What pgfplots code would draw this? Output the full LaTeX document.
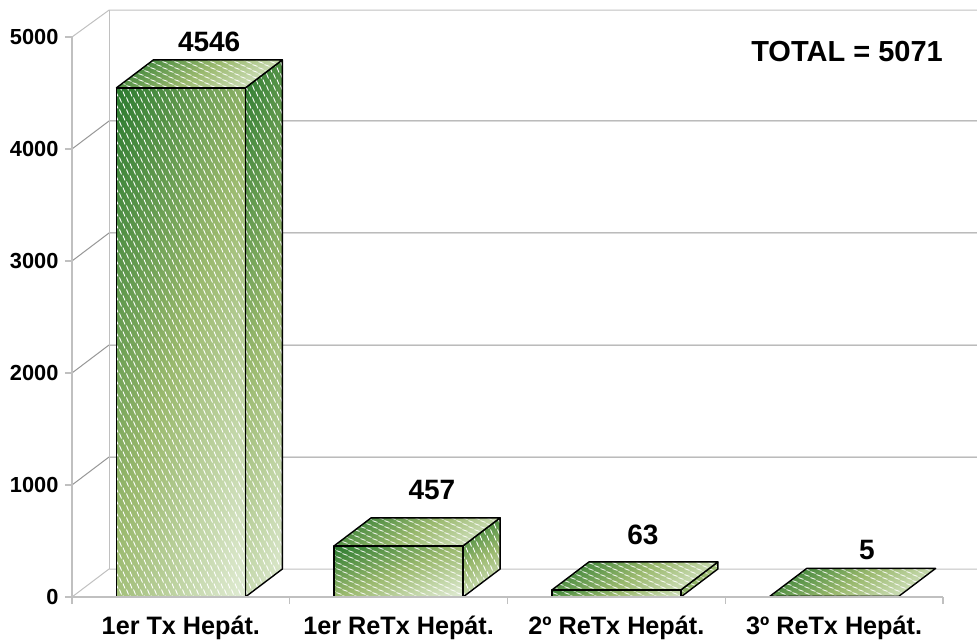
\documentclass[border=0pt]{standalone}
\usepackage{fontspec}
\setmainfont{Liberation Sans}
\usepackage{pgfplots}
\pgfplotsset{compat=1.18}
\usetikzlibrary{patterns}

\definecolor{wallgray}{RGB}{192,192,192}
\definecolor{gridgray}{RGB}{150,150,150}
\definecolor{gdark}{RGB}{26,112,34}
\definecolor{gmid}{RGB}{150,182,104}
\definecolor{glight}{RGB}{230,240,220}

% dark in one corner, light in the opposite one
\pgfdeclareverticalshading{barface}{100bp}{
  color(0bp)=(glight); color(16bp)=(glight); color(50bp)=(gmid);
  color(84bp)=(gdark); color(100bp)=(gdark)}

% the little slanted dashes on the faces
\pgfdeclarepatternformonly{steepdash}{\pgfqpoint{-1pt}{-1pt}}{\pgfqpoint{8pt}{13pt}}{\pgfqpoint{7pt}{12pt}}{
  \pgfsetlinewidth{0.9pt}
  \pgfpathmoveto{\pgfqpoint{0.5pt}{5.5pt}}\pgfpathlineto{\pgfqpoint{2.5pt}{0.5pt}}
  \pgfpathmoveto{\pgfqpoint{4pt}{11.5pt}}\pgfpathlineto{\pgfqpoint{6pt}{6.5pt}}
  \pgfusepath{stroke}}
\pgfdeclarepatternformonly{flatdash}{\pgfqpoint{-1pt}{-1pt}}{\pgfqpoint{13pt}{7pt}}{\pgfqpoint{12pt}{6pt}}{
  \pgfsetlinewidth{0.8pt}
  \pgfpathmoveto{\pgfqpoint{0.5pt}{2.4pt}}\pgfpathlineto{\pgfqpoint{5.5pt}{0.6pt}}
  \pgfpathmoveto{\pgfqpoint{6.5pt}{5.4pt}}\pgfpathlineto{\pgfqpoint{11.5pt}{3.6pt}}
  \pgfusepath{stroke}}

% one face: pattern name, shading angle, coordinates
\newcommand{\barface}[3]{%
  \addplot[draw=none, shading=barface, shading angle=#2, fill opacity=0.96] coordinates {#3} -- cycle;
  \addplot[draw=none, pattern=#1, pattern color=white, fill opacity=0.07] coordinates {#3} -- cycle;
  \addplot[draw=black, line width=1.4pt, line join=round] coordinates {#3} -- cycle;
}
\newcommand{\wall}[2][gridgray]{\addplot[draw=#1, line width=1pt] coordinates {#2};}

\begin{document}
\begin{tikzpicture}
  \path[use as bounding box] (-72pt,-46pt) rectangle (905pt,597pt);
  \begin{axis}[
      at={(0,0)}, anchor=south west,
      scale only axis, width=871pt, height=560pt,
      xmin=0, xmax=4, ymin=0, ymax=5000,
      clip=false, axis on top,
      axis x line*=bottom, axis y line*=left,
      axis line style={draw=wallgray, line width=1.5pt, -},
      tick align=outside, major tick length=7pt, minor tick length=7pt,
      xtick={0.5,1.5,2.5,3.5},
      xticklabels={1er Tx Hepát., 1er ReTx Hepát., 2º ReTx Hepát., 3º ReTx Hepát.},
      minor xtick={0,1,2,3,4},
      x tick style={draw=none},
      minor x tick style={draw=wallgray, line width=1.3pt},
      ytick={0,1000,2000,3000,4000,5000},
      y tick style={draw=wallgray, line width=1.3pt},
      scaled y ticks=false,
      /pgf/number format/assume math mode=true,
      /pgf/number format/1000 sep={},
      xticklabel style={font=\fontsize{25.2}{27}\selectfont\bfseries, yshift=-8pt},
      yticklabel style={font=\fontsize{21.8}{24}\selectfont\bfseries, xshift=-3pt},
    ]
    % side walls and back grid
    \wall[wallgray]{(0,0) (0.17,250) (4.156,250)}
    \wall{(0,1000) (0.17,1250) (4.156,1250)}
    \wall{(0,2000) (0.17,2250) (4.156,2250)}
    \wall{(0,3000) (0.17,3250) (4.156,3250)}
    \wall{(0,4000) (0.17,4250) (4.156,4250)}
    \wall[wallgray]{(0,5000) (0.17,5240) (4.156,5240)}
    \wall[wallgray]{(0.17,250) (0.17,5240)}

    % 1er Tx: 4546
    \barface{steepdash}{72}{(0.796,0) (0.966,250) (0.966,4796) (0.796,4546)}
    \barface{flatdash}{30}{(0.204,4546) (0.374,4796) (0.966,4796) (0.796,4546)}
    \barface{steepdash}{72}{(0.204,0) (0.796,0) (0.796,4546) (0.204,4546)}
    % 1er ReTx: 457
    \barface{steepdash}{30}{(1.796,0) (1.966,250) (1.966,707) (1.796,457)}
    \barface{flatdash}{30}{(1.204,457) (1.374,707) (1.966,707) (1.796,457)}
    \barface{flatdash}{22}{(1.204,0) (1.796,0) (1.796,457) (1.204,457)}
    % 2o ReTx: 63
    \barface{flatdash}{45}{(2.796,0) (2.966,250) (2.966,313) (2.796,63)}
    \barface{flatdash}{30}{(2.204,63) (2.374,313) (2.966,313) (2.796,63)}
    \barface{flatdash}{10}{(2.204,0) (2.796,0) (2.796,63) (2.204,63)}
    % 3o ReTx: 5
    \barface{flatdash}{30}{(3.204,5) (3.374,255) (3.966,255) (3.796,5)}

    \node[font=\fontsize{28}{30}\selectfont\bfseries] at (axis cs:0.63,4959) {4546};
    \node[font=\fontsize{28}{30}\selectfont\bfseries] at (axis cs:1.653,959) {457};
    \node[font=\fontsize{28}{30}\selectfont\bfseries] at (axis cs:2.622,559) {63};
    \node[font=\fontsize{28}{30}\selectfont\bfseries] at (axis cs:3.65,419) {5};
    \node[font=\fontsize{29}{31}\selectfont\bfseries, anchor=east, inner sep=0pt] at (axis cs:4,4870) {TOTAL = 5071};
  \end{axis}
\end{tikzpicture}
\end{document}
